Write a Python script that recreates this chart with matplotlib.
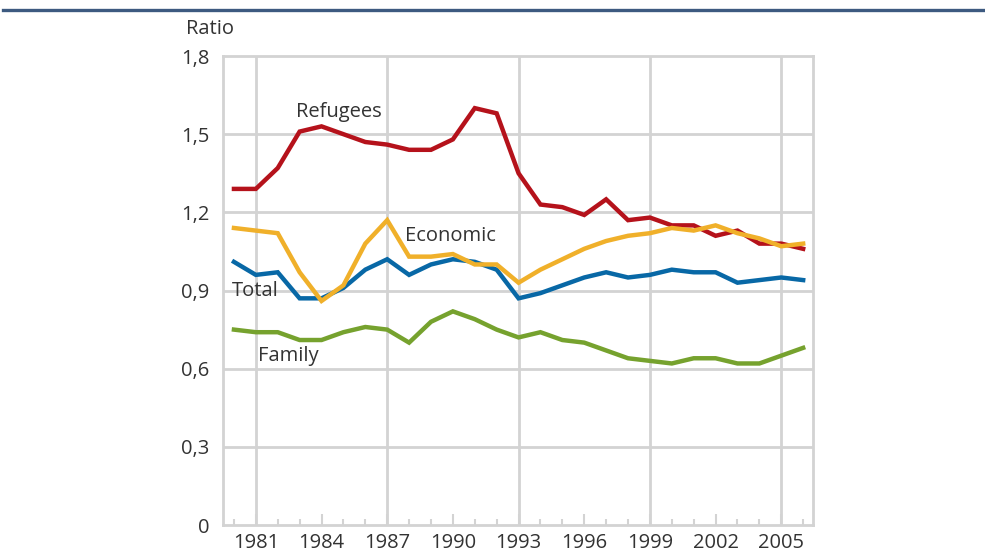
import matplotlib
matplotlib.use('Agg')
import matplotlib.pyplot as plt
from matplotlib.lines import Line2D
from matplotlib.ticker import MultipleLocator, FuncFormatter

plt.rcParams['font.family'] = ['Open Sans', 'DejaVu Sans']

# Data
years = list(range(1980, 2007))
refugees = [1.29, 1.29, 1.37, 1.51, 1.53, 1.50, 1.47, 1.46, 1.44, 1.44, 1.48, 1.60, 1.58,
            1.35, 1.23, 1.22, 1.19, 1.25, 1.17, 1.18, 1.15, 1.15, 1.11, 1.13, 1.08, 1.08, 1.06]
economic = [1.14, 1.13, 1.12, 0.97, 0.86, 0.92, 1.08, 1.17, 1.03, 1.03, 1.04, 1.00, 1.00,
            0.93, 0.98, 1.02, 1.06, 1.09, 1.11, 1.12, 1.14, 1.13, 1.15, 1.12, 1.10, 1.07, 1.08]
total = [1.01, 0.96, 0.97, 0.87, 0.87, 0.91, 0.98, 1.02, 0.96, 1.00, 1.02, 1.01, 0.98,
         0.87, 0.89, 0.92, 0.95, 0.97, 0.95, 0.96, 0.98, 0.97, 0.97, 0.93, 0.94, 0.95, 0.94]
family = [0.75, 0.74, 0.74, 0.71, 0.71, 0.74, 0.76, 0.75, 0.70, 0.78, 0.82, 0.79, 0.75,
          0.72, 0.74, 0.71, 0.70, 0.67, 0.64, 0.63, 0.62, 0.64, 0.64, 0.62, 0.62, 0.65, 0.68]

grid_col = '#d3d3d3'
text_col = '#333333'

fig = plt.figure(figsize=(9.85, 5.53), dpi=100)
ax = fig.add_axes([0.2264, 0.0506, 0.5990, 0.8481])

# rule across the top of the figure
fig.add_artist(Line2D([0.003, 1.0], [0.982, 0.982], color='#3d5a80', lw=2.4,
                      transform=fig.transFigure))

ax.set_xlim(1979.5, 2006.45)
ax.set_ylim(0, 1.8)

# grid
for y in [0.3, 0.6, 0.9, 1.2, 1.5]:
    ax.axhline(y, color=grid_col, lw=2, zorder=0)
for x in range(1981, 2007, 6):
    ax.axvline(x, color=grid_col, lw=2, zorder=0)

ax.plot(years, family, color='#76a22e', lw=3.2, solid_joinstyle='miter', zorder=3)
ax.plot(years, total, color='#0868a6', lw=3.2, solid_joinstyle='miter', zorder=4)
ax.plot(years, refugees, color='#b5121b', lw=3.2, solid_joinstyle='miter', zorder=5)
ax.plot(years, economic, color='#f0b02a', lw=3.2, solid_joinstyle='miter', zorder=6)

for s in ax.spines.values():
    s.set_color(grid_col)
    s.set_linewidth(2)

ax.set_xticks(list(range(1981, 2006, 3)))
ax.xaxis.set_minor_locator(MultipleLocator(1))
ax.set_yticks([0, 0.3, 0.6, 0.9, 1.2, 1.5, 1.8])
ax.yaxis.set_major_formatter(FuncFormatter(
    lambda v, p: '0' if v == 0 else f'{v:.1f}'.replace('.', ',')))

ax.tick_params(axis='x', which='major', direction='in', length=8, width=1.5,
               color=grid_col, labelsize=14.5, labelcolor=text_col, pad=6)
ax.tick_params(axis='x', which='minor', direction='in', length=4, width=1.5,
               color=grid_col)
ax.tick_params(axis='y', length=0, labelsize=14.5, labelcolor=text_col, pad=10)

ax.text(-0.063, 1.058, 'Ratio', transform=ax.transAxes, fontsize=14.5,
        color=text_col, ha='left', va='center')

ax.text(1984.8, 1.585, 'Refugees', fontsize=14.5, color=text_col, ha='center', va='center')
ax.text(1989.9, 1.109, 'Economic', fontsize=14.5, color=text_col, ha='center', va='center')
ax.text(1980.96, 0.898, 'Total', fontsize=14.5, color=text_col, ha='center', va='center')
ax.text(1982.5, 0.649, 'Family', fontsize=14.5, color=text_col, ha='center', va='center')

fig.savefig('out.png', dpi=100)
